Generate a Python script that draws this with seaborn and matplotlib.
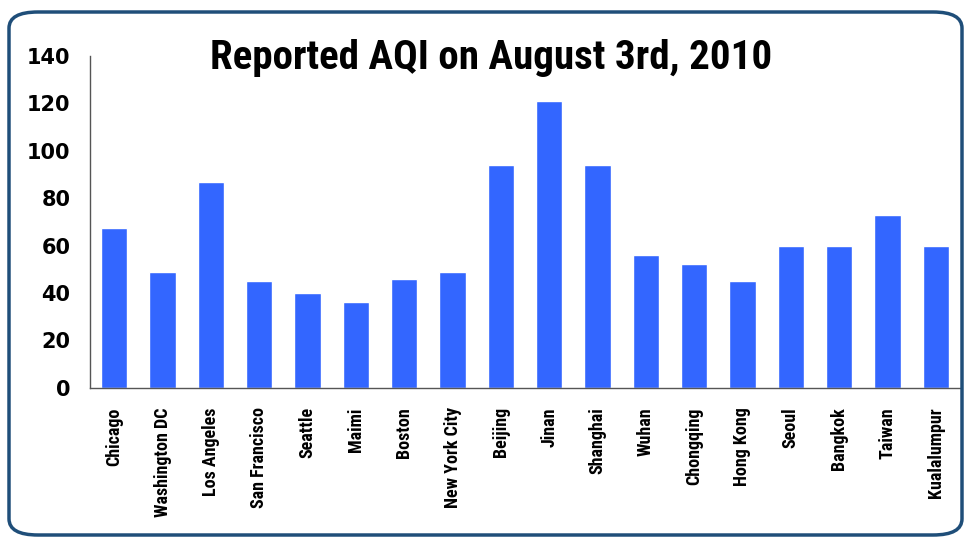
import matplotlib
matplotlib.use("Agg")
import matplotlib.pyplot as plt
from matplotlib.patches import FancyBboxPatch
from matplotlib.ticker import FixedLocator
import seaborn as sns
import pandas as pd

cities = ["Chicago", "Washington DC", "Los Angeles", "San Francisco", "Seattle",
          "Maimi", "Boston", "New York City", "Beijing", "Jinan", "Shanghai",
          "Wuhan", "Chongqing", "Hong Kong", "Seoul", "Bangkok", "Taiwan",
          "Kualalumpur"]
aqi = [67.5, 49, 87, 45, 40, 36, 46, 49, 94, 121, 94, 56, 52, 45, 60, 60, 73, 60]

df = pd.DataFrame({"City": cities, "AQI": aqi})

sns.set_style("white")
plt.rcParams["font.family"] = ["Roboto Condensed", "DejaVu Sans"]
plt.rcParams["text.color"] = "black"
plt.rcParams["xtick.color"] = "black"
plt.rcParams["ytick.color"] = "black"

fig = plt.figure(figsize=(9.65, 5.38), dpi=100)

# rounded frame around the chart
frame = FancyBboxPatch((9 / 965, 3 / 538), 953 / 965, 523 / 538,
                       boxstyle="round,pad=0,rounding_size=0.03",
                       transform=fig.transFigure, fill=False,
                       edgecolor="#1f4e79", linewidth=2.5)
fig.patches.append(frame)

ax = fig.add_axes([90 / 965, 1 - 387.7 / 538, 870 / 965, 331.7 / 538])
sns.barplot(data=df, x="City", y="AQI", color="#3366ff", saturation=1,
            width=0.54, ax=ax)

ax.set_ylim(0, 140)
ax.set_xlim(-0.5, len(cities) - 0.5)
ax.set_yticks(range(0, 141, 20))
ax.set_yticklabels([str(v) for v in range(0, 141, 20)], fontsize=15,
                   fontweight="bold", family=["DejaVu Sans"])
ax.set_xticks(range(len(cities)))
ax.set_xticklabels(cities, rotation=90, fontsize=13, fontweight="bold",
                   va="top")
ax.tick_params(axis="x", which="major", length=0, pad=14)
ax.xaxis.set_minor_locator(FixedLocator([i - 0.5 for i in range(len(cities) + 1)]))
ax.tick_params(axis="x", which="minor", length=6, color="#555555", direction="out")
ax.tick_params(axis="y", length=8, color="#555555", direction="out", pad=6)
ax.set_xlabel("")
ax.set_ylabel("")

sns.despine(ax=ax)
for side in ["left", "bottom"]:
    ax.spines[side].set_color("#555555")
    ax.spines[side].set_linewidth(1)

fig.text(0.509, 0.893, "Reported AQI on August 3rd, 2010", ha="center",
         va="center", fontsize=29.5, fontweight="bold")

plt.savefig("out.png", dpi=100)
